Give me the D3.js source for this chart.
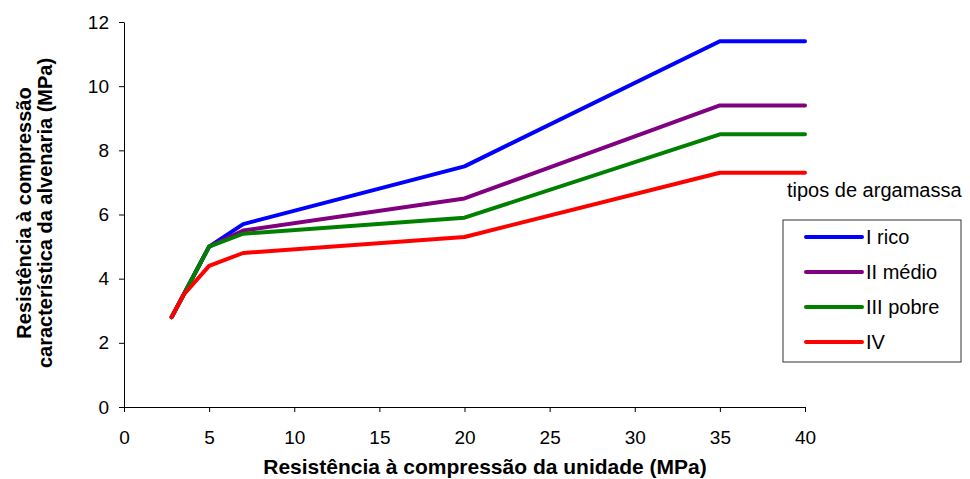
<!DOCTYPE html>
<html>
<head>
<meta charset="utf-8">
<script src="https://cdn.jsdelivr.net/npm/d3@7/dist/d3.min.js"></script>
<style>
  body { margin: 0; background: #fff; }
  text { font-family: "Liberation Sans", Arial, sans-serif; fill: #000; }
  .axis path, .axis line { stroke: #000; }
</style>
</head>
<body>
<svg id="chart" width="970" height="479"></svg>
<script>
// data
var unitStrength = [2.8, 3.5, 5, 7, 20, 35, 40];
var rico  = [2.8, 3.5, 5.0, 5.7, 7.5, 11.4, 11.4];
var medio = [2.8, 3.5, 5.0, 5.5, 6.5, 9.4, 9.4];
var pobre = [2.8, 3.5, 5.0, 5.4, 5.9, 8.5, 8.5];
var tipoIV = [2.8, 3.5, 4.4, 4.8, 5.3, 7.3, 7.3];
var seriesNames = ["I rico", "II médio", "III pobre", "IV"];
var seriesColors = ["#0000ff", "#800080", "#008000", "#ff0000"];
var xTicks = [0, 5, 10, 15, 20, 25, 30, 35, 40];
var yTicks = [0, 2, 4, 6, 8, 10, 12];

var allSeries = [rico, medio, pobre, tipoIV];

var svg = d3.select("#chart");
var plotL = 124, plotR = 805, plotT = 22, plotB = 407;

var x = d3.scaleLinear().domain([0, 40]).range([plotL, plotR]);
var y = d3.scaleLinear().domain([0, 12]).range([plotB, plotT]);

svg.append("g")
  .attr("class", "axis")
  .attr("transform", "translate(0," + plotB + ")")
  .call(d3.axisBottom(x).tickValues(xTicks).tickSize(5).tickSizeOuter(0))
  .call(g => g.selectAll("text").attr("font-size", 19).attr("y", 30).attr("dy", "0.35em"));

svg.append("g")
  .attr("class", "axis")
  .attr("transform", "translate(" + plotL + ",0)")
  .call(d3.axisLeft(y).tickValues(yTicks).tickSize(5).tickSizeOuter(0))
  .call(g => g.selectAll("text").attr("font-size", 19).attr("x", -15));

svg.selectAll(".domain").attr("stroke", "#000");

var line = d3.line()
  .x((d, i) => x(unitStrength[i]))
  .y(d => y(d));

svg.selectAll(".serie")
  .data(allSeries)
  .enter().append("path")
  .attr("class", "serie")
  .attr("d", line)
  .attr("fill", "none")
  .attr("stroke", (d, i) => seriesColors[i])
  .attr("stroke-width", 4)
  .attr("stroke-linejoin", "round")
  .attr("stroke-linecap", "round");

// axis titles
svg.append("text")
  .attr("x", 485)
  .attr("y", 474)
  .attr("text-anchor", "middle")
  .attr("font-size", 21)
  .attr("font-weight", "bold")
  .text("Resistência à compressão da unidade (MPa)");

var yt = svg.append("text")
  .attr("transform", "translate(0,213) rotate(-90)")
  .attr("text-anchor", "middle")
  .attr("font-size", 20)
  .attr("font-weight", "bold");
yt.append("tspan").attr("x", 0).attr("y", 31).text("Resistência à compressão");
yt.append("tspan").attr("x", 0).attr("y", 52).text("característica da alvenaria (MPa)");

// legend
svg.append("text")
  .attr("x", 787)
  .attr("y", 197)
  .attr("font-size", 20)
  .text("tipos de argamassa");

var lg = svg.append("g").attr("transform", "translate(783,220)");
lg.append("rect")
  .attr("width", 178)
  .attr("height", 142)
  .attr("fill", "none")
  .attr("stroke", "#333");

var items = lg.selectAll(".item")
  .data(seriesNames)
  .enter().append("g")
  .attr("transform", (d, i) => "translate(0," + (17 + i * 35) + ")");
items.append("line")
  .attr("x1", 23).attr("x2", 79)
  .attr("stroke", (d, i) => seriesColors[i])
  .attr("stroke-width", 4)
  .attr("stroke-linecap", "round");
items.append("text")
  .attr("x", 83)
  .attr("dy", "0.35em")
  .attr("font-size", 20)
  .text(d => d);
</script>
</body>
</html>
